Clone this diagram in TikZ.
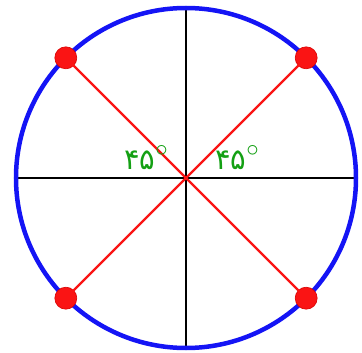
\documentclass[tikz,border=0pt]{standalone}
\usepackage{fontspec}
\newfontfamily\persfont[Script=Arabic]{DejaVu Sans}
\definecolor{cblue}{RGB}{20,20,245}
\definecolor{cred}{RGB}{250,20,20}
\definecolor{cgreen}{RGB}{20,160,20}
\newcommand{\degmark}{\raisebox{0.45em}{\fontsize{23}{23}\selectfont$\circ$}}
\begin{document}
\begin{tikzpicture}[x=1pt,y=-1pt,
  rim/.style={draw=cblue,line width=4.5pt},
  axis/.style={draw=black,line width=2.2pt},
  ray/.style={draw=cred,line width=2.2pt},
  dot/.style={circle,fill=cred,draw=red!85!black,line width=0.6pt,minimum size=22pt,inner sep=0pt},
  anglab/.style={text=cgreen,font=\persfont\fontsize{29}{29}\selectfont,inner sep=0pt,anchor=base west}]
\useasboundingbox (0,0) rectangle (362,353);
\coordinate (O) at (186,178);
\coordinate (L) at (16,178);
\coordinate (R) at (356,178);
\coordinate (T) at (186,8);
\coordinate (B) at (186,348);
\draw[axis] (L) -- (R);
\draw[axis] (T) -- (B);
\draw[rim] (O) circle[radius=170];
\node[dot] (d1) at (65.8,57.8) {};
\node[dot] (d2) at (306.2,57.8) {};
\node[dot] (d3) at (65.8,298.2) {};
\node[dot] (d4) at (306.2,298.2) {};
\draw[ray] (O) -- (d1.center);
\draw[ray] (O) -- (d2.center);
\draw[ray] (O) -- (d3.center);
\draw[ray] (O) -- (d4.center);
\node[anglab] (a1) at (124,170) {۴۵\degmark};
\node[anglab] (a2) at (215,170) {۴۵\degmark};
\end{tikzpicture}
\end{document}
